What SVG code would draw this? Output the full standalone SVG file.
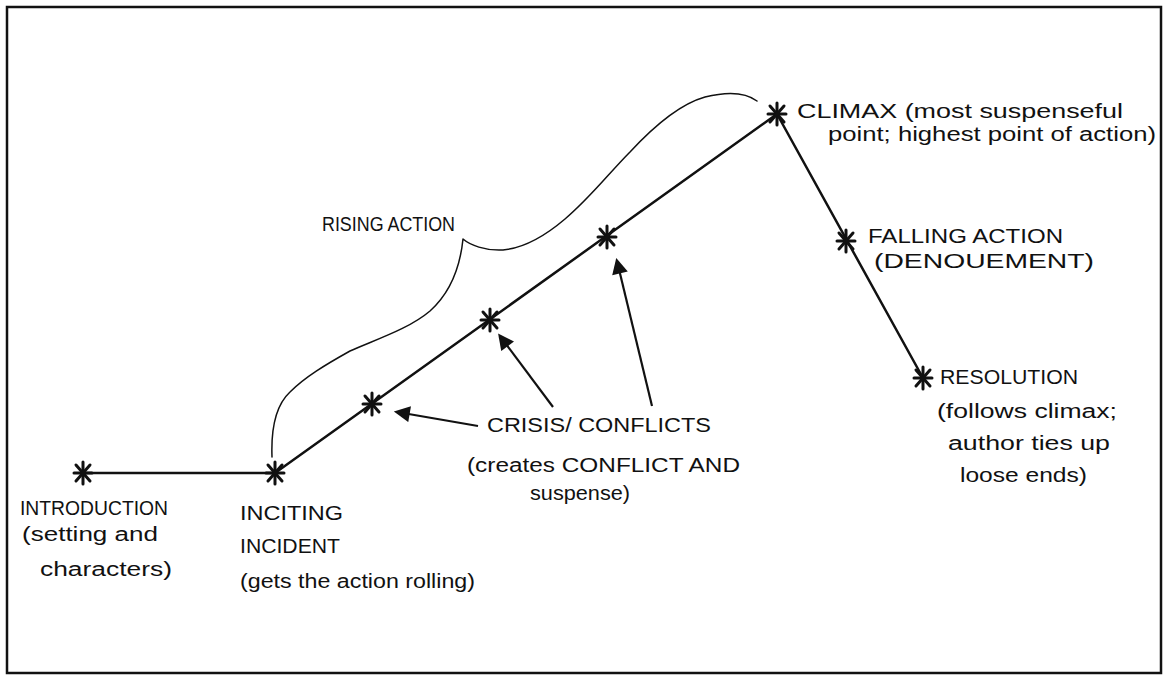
<svg xmlns="http://www.w3.org/2000/svg" xmlns:xlink="http://www.w3.org/1999/xlink" width="1164" height="675" viewBox="0 0 1164 675">
<style>
.lbl{font-family:"Liberation Sans","DejaVu Sans",Arial,sans-serif;font-size:20px;fill:#111;}
.plot{fill:none;stroke:#111;stroke-width:2.5;stroke-linejoin:round;stroke-linecap:round;}
.brace{fill:none;stroke:#111;stroke-width:1.5;stroke-linejoin:round;stroke-linecap:round;}
.arr{fill:none;stroke:#111;stroke-width:2.2;}
.ast{stroke:#111;stroke-width:3;stroke-linecap:round;}
</style>
<defs>
<g id="star" class="ast">
<line x1="0" y1="-11" x2="0" y2="11"/>
<line x1="-9" y1="0" x2="9" y2="0"/>
<line x1="-7" y1="-8" x2="7" y2="8"/>
<line x1="-7" y1="8" x2="7" y2="-8"/>
</g>
<marker id="head" viewBox="0 0 10 10" refX="8" refY="5" markerWidth="18" markerHeight="16" markerUnits="userSpaceOnUse" orient="auto">
<path d="M0,0 L10,5 L0,10 z" fill="#111"/>
</marker>
</defs>
<rect x="0" y="0" width="1164" height="675" fill="#fff"/>
<rect x="7" y="7" width="1154" height="666" fill="none" stroke="#111" stroke-width="2.5"/>

<g id="connectors">
<polyline class="plot" points="83,473 275,473 777,114 923,378"/>
<path class="brace" d="M272,457 C271,430 276,405 290,392 C305,377 325,365 350,351 C380,338 410,328 430,311 C450,293 460,268 463,239 C470,245 485,251 503,250 C525,248 545,236 565,219 C590,198 610,172 630,152 C655,125 680,104 705,97 C725,92 745,92 757,101"/>
<line class="arr" x1="478" y1="426" x2="397" y2="412" marker-end="url(#head)"/>
<line class="arr" x1="553" y1="407" x2="500" y2="336" marker-end="url(#head)"/>
<line class="arr" x1="652" y1="406" x2="617" y2="261" marker-end="url(#head)"/>
</g>

<g id="introduction">
<use href="#star" x="83" y="473"/>
<text class="lbl" x="20" y="515" textLength="148" lengthAdjust="spacingAndGlyphs">INTRODUCTION</text>
<text class="lbl" x="22" y="541" textLength="136" lengthAdjust="spacingAndGlyphs">(setting and</text>
<text class="lbl" x="40" y="576" textLength="132" lengthAdjust="spacingAndGlyphs">characters)</text>
</g>

<g id="inciting-incident">
<use href="#star" x="275" y="473"/>
<text class="lbl" x="240" y="520" textLength="103" lengthAdjust="spacingAndGlyphs">INCITING</text>
<text class="lbl" x="240" y="553" textLength="100" lengthAdjust="spacingAndGlyphs">INCIDENT</text>
<text class="lbl" x="240" y="588" textLength="235" lengthAdjust="spacingAndGlyphs">(gets the action rolling)</text>
</g>

<g id="crisis-1"><use href="#star" x="372" y="404"/></g>
<g id="crisis-2"><use href="#star" x="490" y="320"/></g>
<g id="crisis-3"><use href="#star" x="607" y="237"/></g>

<g id="rising-action">
<text class="lbl" x="322" y="231" textLength="133" lengthAdjust="spacingAndGlyphs">RISING ACTION</text>
</g>

<g id="crisis-label">
<text class="lbl" x="487" y="432" textLength="224" lengthAdjust="spacingAndGlyphs">CRISIS/ CONFLICTS</text>
<text class="lbl" x="467" y="472" textLength="273" lengthAdjust="spacingAndGlyphs">(creates CONFLICT AND</text>
<text class="lbl" x="530" y="500" textLength="100" lengthAdjust="spacingAndGlyphs">suspense)</text>
</g>

<g id="climax">
<use href="#star" x="777" y="114"/>
<text class="lbl" x="797" y="118" textLength="326" lengthAdjust="spacingAndGlyphs">CLIMAX (most suspenseful</text>
<text class="lbl" x="828" y="141" textLength="328" lengthAdjust="spacingAndGlyphs">point; highest point of action)</text>
</g>

<g id="falling-action">
<use href="#star" x="846" y="241"/>
<text class="lbl" x="868" y="243" textLength="195" lengthAdjust="spacingAndGlyphs">FALLING ACTION</text>
<text class="lbl" x="874" y="268" textLength="220" lengthAdjust="spacingAndGlyphs">(DENOUEMENT)</text>
</g>

<g id="resolution">
<use href="#star" x="923" y="378"/>
<text class="lbl" x="940" y="384" textLength="138" lengthAdjust="spacingAndGlyphs">RESOLUTION</text>
<text class="lbl" x="937" y="418" textLength="180" lengthAdjust="spacingAndGlyphs">(follows climax;</text>
<text class="lbl" x="948" y="450" textLength="162" lengthAdjust="spacingAndGlyphs">author ties up</text>
<text class="lbl" x="960" y="482" textLength="127" lengthAdjust="spacingAndGlyphs">loose ends)</text>
</g>
</svg>
